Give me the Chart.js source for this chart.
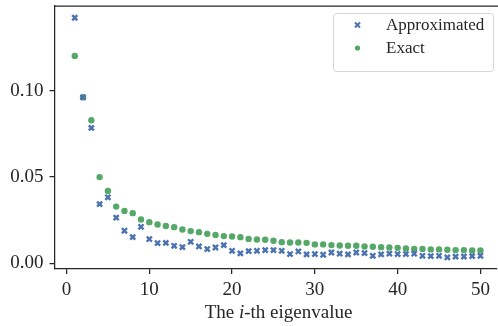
<!DOCTYPE html>
<html>
<head>
<meta charset="utf-8">
<script src="https://cdn.jsdelivr.net/npm/chart.js@4"></script>
<style>
  html, body { margin: 0; padding: 0; background: #fff; overflow: hidden; }
  /* a little wider than the window so the open right side runs off the edge */
  #wrap { width: 503px; height: 326px; }
</style>
</head>
<body>
<div id="wrap"><canvas id="eigChart"></canvas></div>
<script>
// ===== Data =====
const indices = Array.from({ length: 50 }, (_, k) => k + 1);

const exactValues = [
    0.1201, 0.0961, 0.0828, 0.0499, 0.0418, 0.0328, 0.0303, 0.0290, 0.0253, 0.0238,
    0.0224, 0.0216, 0.0209, 0.0195, 0.0186, 0.0180, 0.0170, 0.0164, 0.0157, 0.0155,
    0.0151, 0.0141, 0.0137, 0.0136, 0.0130, 0.0122, 0.0120, 0.0120, 0.0118, 0.0109,
    0.0109, 0.0105, 0.0103, 0.0101, 0.0101, 0.0097, 0.0095, 0.0093, 0.0091, 0.0089,
    0.0085, 0.0083, 0.0082, 0.0080, 0.0080, 0.0078, 0.0076, 0.0076, 0.0074, 0.0074
];

const approxValues = [
    0.1422, 0.0961, 0.0784, 0.0342, 0.0382, 0.0264, 0.0188, 0.0151, 0.0211, 0.0140,
    0.0117, 0.0118, 0.0101, 0.0093, 0.0124, 0.0097, 0.0082, 0.0091, 0.0105, 0.0072,
    0.0057, 0.0070, 0.0072, 0.0076, 0.0076, 0.0072, 0.0053, 0.0068, 0.0051, 0.0053,
    0.0049, 0.0062, 0.0055, 0.0051, 0.0062, 0.0059, 0.0043, 0.0051, 0.0055, 0.0053,
    0.0053, 0.0055, 0.0043, 0.0041, 0.0043, 0.0034, 0.0038, 0.0039, 0.0041, 0.0043
];

const xTicks = [0, 10, 20, 30, 40, 50];
const yTicks = [0.00, 0.05, 0.10];

const BLUE = '#4c72b0';
const GREEN = '#55a868';
const SERIF = '"Liberation Serif", "DejaVu Serif", serif';

const toPoints = vals => vals.map((v, k) => ({ x: indices[k], y: v }));

// scales should not reserve room for overhanging tick labels
function noOverhang(s) {
    s.paddingTop = 0;
    s.paddingBottom = 0;
    s.paddingLeft = 0;
    s.paddingRight = 0;
}

// ===== Legend box drawn inside the axes, plus top spine and x label =====
const decorations = {
    id: 'decorations',
    afterDraw(chart) {
        const { ctx, chartArea } = chart;
        ctx.save();

        // top spine
        ctx.strokeStyle = '#262626';
        ctx.lineWidth = 1.25;
        ctx.beginPath();
        ctx.moveTo(chartArea.left, chartArea.top);
        ctx.lineTo(chartArea.right + 10, chartArea.top);
        ctx.stroke();

        // legend frame
        const bx = 333.5, by = 13.5, bw = 160, bh = 58;
        ctx.fillStyle = 'rgba(255,255,255,0.8)';
        ctx.strokeStyle = '#d6d6d6';
        ctx.lineWidth = 1;
        ctx.beginPath();
        ctx.roundRect(bx, by, bw, bh, 3);
        ctx.fill();
        ctx.stroke();

        // legend entries
        ctx.font = '17px ' + SERIF;
        ctx.textBaseline = 'middle';
        ctx.textAlign = 'left';
        chart.data.datasets.forEach((ds, k) => {
            const my = 25 + k * 23;
            if (ds.pointStyle === 'crossRot') {
                ctx.strokeStyle = ds.borderColor;
                ctx.lineWidth = 2;
                ctx.beginPath();
                ctx.moveTo(355, my - 2.5); ctx.lineTo(360, my + 2.5);
                ctx.moveTo(360, my - 2.5); ctx.lineTo(355, my + 2.5);
                ctx.stroke();
            } else {
                ctx.fillStyle = ds.backgroundColor;
                ctx.beginPath();
                ctx.arc(357.5, my, 2.6, 0, Math.PI * 2);
                ctx.fill();
            }
            ctx.fillStyle = '#262626';
            ctx.fillText(ds.label, 386, my + 1);
        });

        // x axis label with italic i
        const parts = [
            { t: 'The ', f: '19px ' + SERIF },
            { t: 'i', f: 'italic 19px ' + SERIF },
            { t: '-th eigenvalue', f: '19px ' + SERIF }
        ];
        let total = 0;
        parts.forEach(p => { ctx.font = p.f; total += ctx.measureText(p.t).width; });
        const cx = 278.5;
        let x = cx - total / 2;
        ctx.textBaseline = 'alphabetic';
        ctx.fillStyle = '#262626';
        parts.forEach(p => {
            ctx.font = p.f;
            ctx.fillText(p.t, x, 318);
            x += ctx.measureText(p.t).width;
        });

        ctx.restore();
    }
};

// ===== Chart =====
const ctx = document.getElementById('eigChart').getContext('2d');
new Chart(ctx, {
    type: 'scatter',
    data: {
        datasets: [
            {
                label: 'Approximated',
                data: toPoints(approxValues),
                pointStyle: 'crossRot',
                borderColor: BLUE,
                backgroundColor: BLUE,
                borderWidth: 2.4,
                pointRadius: 3.6,
                pointHoverRadius: 3.6
            },
            {
                label: 'Exact',
                data: toPoints(exactValues),
                pointStyle: 'circle',
                borderColor: GREEN,
                backgroundColor: GREEN,
                borderWidth: 0,
                pointRadius: 3.2,
                pointHoverRadius: 3.2
            }
        ]
    },
    options: {
        responsive: true,
        maintainAspectRatio: false,
        animation: false,
        events: [],
        layout: { padding: { top: 5, right: 0, left: 0, bottom: 0 } },
        plugins: {
            legend: { display: false },
            tooltip: { enabled: false }
        },
        scales: {
            x: {
                type: 'linear',
                min: -1.45,
                max: 52,
                afterBuildTicks: s => { s.ticks = xTicks.map(v => ({ value: v })); },
                afterFit: s => { s.height = 57; noOverhang(s); },
                border: { display: true, color: '#262626', width: 1.25 },
                grid: { display: true, drawOnChartArea: false, drawTicks: true, tickLength: 5, color: '#262626', lineWidth: 1.25 },
                ticks: { color: '#262626', padding: 5, font: { family: SERIF, size: 19 }, maxRotation: 0 }
            },
            y: {
                type: 'linear',
                min: -0.00335,
                max: 0.149,
                afterBuildTicks: s => { s.ticks = yTicks.map(v => ({ value: v })); },
                afterFit: s => { s.width = 54.5; noOverhang(s); },
                border: { display: true, color: '#262626', width: 1.25 },
                grid: { display: true, drawOnChartArea: false, drawTicks: true, tickLength: 5, color: '#262626', lineWidth: 1.25 },
                ticks: {
                    color: '#262626',
                    padding: 6,
                    font: { family: SERIF, size: 19 },
                    callback: v => v.toFixed(2)
                }
            }
        }
    },
    plugins: [decorations]
});
</script>
</body>
</html>
